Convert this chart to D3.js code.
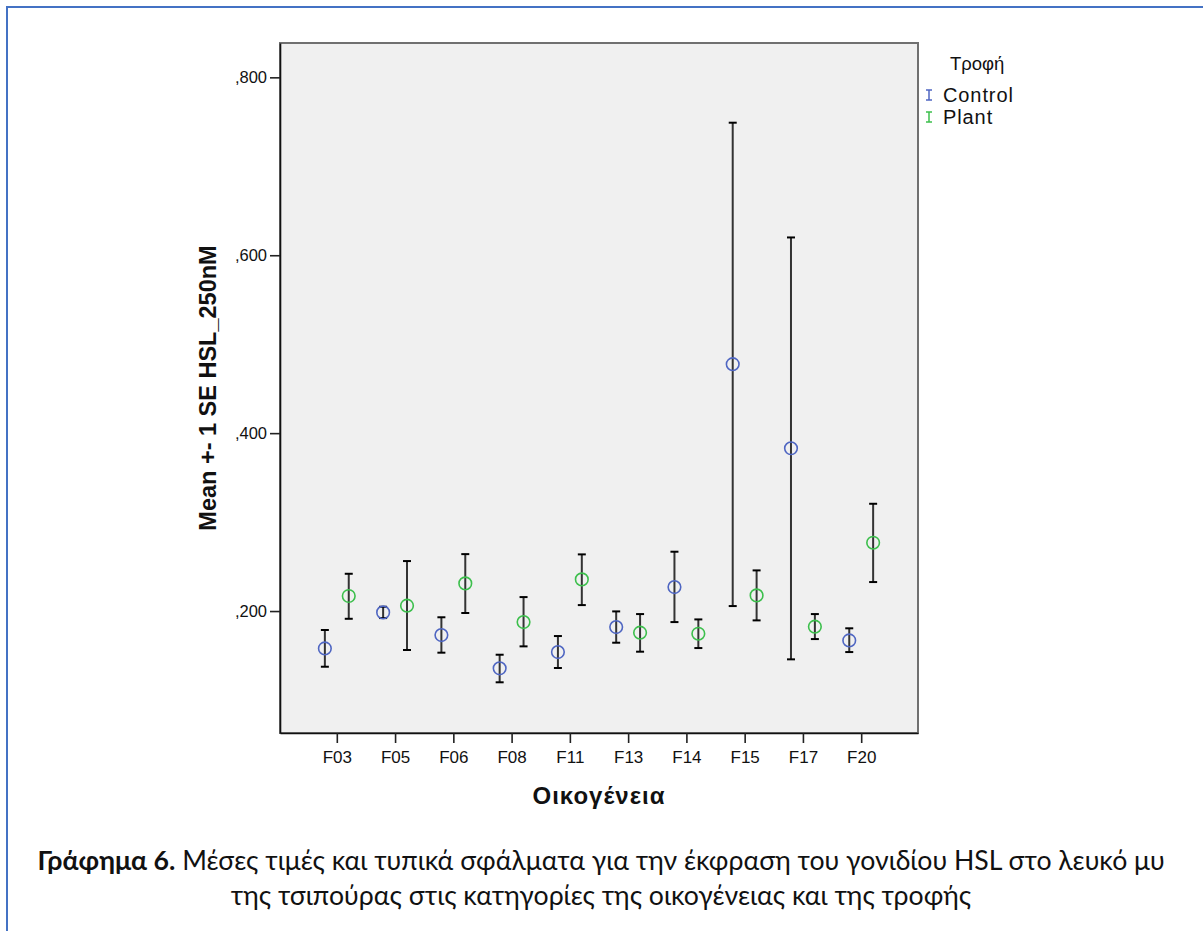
<!DOCTYPE html>
<html>
<head>
<meta charset="utf-8">
<script src="https://cdn.jsdelivr.net/npm/d3@7"></script>
<style>
	body { margin: 0; background: #fff; }
	svg { display: block; }
</style>
</head>
<body>
<svg width="1203" height="931"></svg>
<script>
// values
const families = ["F03", "F05", "F06", "F08", "F11", "F13", "F14", "F15", "F17", "F20"];
const controlMean = [0.158, 0.1985, 0.173, 0.1356, 0.1539, 0.182, 0.227, 0.4775, 0.383, 0.167];
const controlLow = [0.1374, 0.1921, 0.1532, 0.1199, 0.136, 0.1644, 0.1876, 0.2056, 0.1457, 0.1539];
const controlHigh = [0.1787, 0.2048, 0.193, 0.1509, 0.1719, 0.1996, 0.2667, 0.749, 0.620, 0.1806];
const plantMean = [0.2169, 0.206, 0.2311, 0.1876, 0.2356, 0.1757, 0.1745, 0.2176, 0.1824, 0.2768];
const plantLow = [0.1913, 0.1562, 0.1978, 0.1603, 0.2067, 0.1543, 0.1584, 0.1895, 0.1685, 0.2326];
const plantHigh = [0.2419, 0.2562, 0.264, 0.2157, 0.2637, 0.1966, 0.1906, 0.2457, 0.1966, 0.3206];
const seriesNames = ["Control", "Plant"];
const yTicks = [0.2, 0.4, 0.6, 0.8];
const yRange = [0.0629, 0.8386];

const holder = {
	"plot": {"left": 280, "right": 918, "top": 43, "bottom": 733},
	"colors": ["#4f66c2", "#3cbf4c"],
	"font": "'Liberation Sans', Arial, sans-serif",
	"svg": null
};

function start() {
	holder.svg = d3.select("svg");
	drawFrame();
	const p = holder.plot;
	const x = d3.scalePoint().domain(families).range([p.left, p.right]).padding(0.975);
	const y = d3.scaleLinear().domain(yRange).range([p.bottom, p.top]);
	drawAxes(x, y);
	const dodge = x.step() * 0.205;
	drawSeries(x, y, controlMean, controlLow, controlHigh, -dodge, holder.colors[0]);
	drawSeries(x, y, plantMean, plantLow, plantHigh, dodge, holder.colors[1]);
	drawLegend();
	drawCaption();
	return;
}

function drawFrame() {
	// blue word-document frame, only top and left are visible
	holder.svg.append("path")
		.attr("d", "M7,931 L7,7 L1203,7")
		.attr("fill", "none")
		.attr("stroke", "#4472c4")
		.attr("stroke-width", 2);
	const p = holder.plot;
	holder.svg.append("rect")
		.attr("x", p.left).attr("y", p.top)
		.attr("width", p.right - p.left).attr("height", p.bottom - p.top)
		.attr("fill", "#f0f0f0")
		.attr("stroke", "#707070")
		.attr("stroke-width", 2);
	return;
}

function fmt(v) {
	return d3.format(".3f")(v).replace(/^0\./, ",");
}

function drawAxes(x, y) {
	const p = holder.plot;
	const gy = holder.svg.append("g")
		.attr("transform", "translate(" + p.left + ",0)")
		.call(d3.axisLeft(y).tickValues(yTicks).tickFormat(fmt).tickSize(10).tickSizeOuter(0).tickPadding(3));
	const gx = holder.svg.append("g")
		.attr("transform", "translate(0," + p.bottom + ")")
		.call(d3.axisBottom(x).tickSize(10).tickSizeOuter(0).tickPadding(6));
	[gx, gy].forEach((g) => {
		g.select(".domain").attr("stroke", "#111").attr("stroke-width", 1.6);
		g.selectAll(".tick line").attr("stroke", "#222").attr("stroke-width", 1.6);
		g.selectAll(".tick text")
			.attr("font-family", holder.font)
			.attr("font-size", "16.5px")
			.attr("fill", "#111");
	});
	gx.selectAll(".tick text").attr("font-size", "17px").attr("dy", "0.8em");
	// axis titles
	holder.svg.append("text")
		.attr("transform", "translate(216," + ((p.top + p.bottom) / 2) + ") rotate(-90)")
		.attr("text-anchor", "middle")
		.attr("font-family", holder.font)
		.attr("font-weight", "bold")
		.attr("font-size", "23.5px")
		.attr("fill", "#111")
		.text("Mean +- 1 SE HSL_250nM");
	holder.svg.append("text")
		.attr("x", (p.left + p.right) / 2)
		.attr("y", 804)
		.attr("text-anchor", "middle")
		.attr("font-family", holder.font)
		.attr("font-weight", "bold")
		.attr("font-size", "24px")
		.attr("letter-spacing", "1px")
		.attr("fill", "#111")
		.text("Οικογένεια");
	return;
}

function drawSeries(x, y, mean, low, high, offset, color) {
	const g = holder.svg.append("g");
	const rows = families.map((f, i) => ({"f": f, "m": mean[i], "lo": low[i], "hi": high[i]}));
	const cap = 4;
	g.selectAll("line.bar").data(rows).enter().append("line")
		.attr("class", "bar")
		.attr("x1", (d) => x(d.f) + offset).attr("x2", (d) => x(d.f) + offset)
		.attr("y1", (d) => y(d.lo)).attr("y2", (d) => y(d.hi))
		.attr("stroke", "#333").attr("stroke-width", 2);
	["lo", "hi"].forEach((k) => {
		g.selectAll("line.cap" + k).data(rows).enter().append("line")
			.attr("class", "cap" + k)
			.attr("x1", (d) => x(d.f) + offset - cap).attr("x2", (d) => x(d.f) + offset + cap)
			.attr("y1", (d) => y(d[k])).attr("y2", (d) => y(d[k]))
			.attr("stroke", "#000").attr("stroke-width", 2);
	});
	g.selectAll("circle").data(rows).enter().append("circle")
		.attr("cx", (d) => x(d.f) + offset)
		.attr("cy", (d) => y(d.m))
		.attr("r", 6.3)
		.attr("fill", "none")
		.attr("stroke", color)
		.attr("stroke-width", 1.6);
	return;
}

function drawLegend() {
	const g = holder.svg.append("g");
	g.append("text")
		.attr("x", 950).attr("y", 70)
		.attr("font-family", holder.font)
		.attr("font-size", "18.5px")
		.attr("fill", "#111")
		.text("Τροφή");
	seriesNames.forEach((name, i) => {
		const cy = 95 + i * 22;
		const c = holder.colors[i];
		g.append("line").attr("x1", 929).attr("x2", 929).attr("y1", cy - 5).attr("y2", cy + 5)
			.attr("stroke", c).attr("stroke-width", 1.5);
		g.append("line").attr("x1", 926).attr("x2", 932).attr("y1", cy - 5).attr("y2", cy - 5)
			.attr("stroke", c).attr("stroke-width", 1.5);
		g.append("line").attr("x1", 926).attr("x2", 932).attr("y1", cy + 5).attr("y2", cy + 5)
			.attr("stroke", c).attr("stroke-width", 1.5);
		g.append("text")
			.attr("x", 943).attr("y", cy + 7)
			.attr("font-family", holder.font)
			.attr("font-size", "20px")
			.attr("letter-spacing", "0.9px")
			.attr("fill", "#111")
			.text(name);
	});
	return;
}

function drawCaption() {
	const lines = [
		[["Γράφημα 6.", true], [" Μέσες τιμές και τυπικά σφάλματα για την έκφραση του γονιδίου HSL στο λευκό μυ", false]],
		[["της τσιπούρας στις κατηγορίες της οικογένειας και της τροφής", false]]
	];
	const baselines = [870, 905];
	const texts = lines.map((parts, i) => {
		const t = holder.svg.append("text")
			.attr("x", 601).attr("y", baselines[i])
			.attr("text-anchor", "middle")
			.attr("font-family", "Lato, 'Open Sans', sans-serif")
			.attr("font-size", "22px")
			.attr("fill", "#111");
		parts.forEach((p) => {
			t.append("tspan").attr("font-weight", p[1] ? "bold" : "normal").text(p[0]);
		});
		return t;
	});
	// fit first line to the width it has in the reference (Calibri is not installed)
	const w = texts[0].node().getComputedTextLength();
	const size = 22 * 1128 / w;
	texts.forEach((t) => t.attr("font-size", size + "px"));
	return;
}

start();
</script>
</body>
</html>
